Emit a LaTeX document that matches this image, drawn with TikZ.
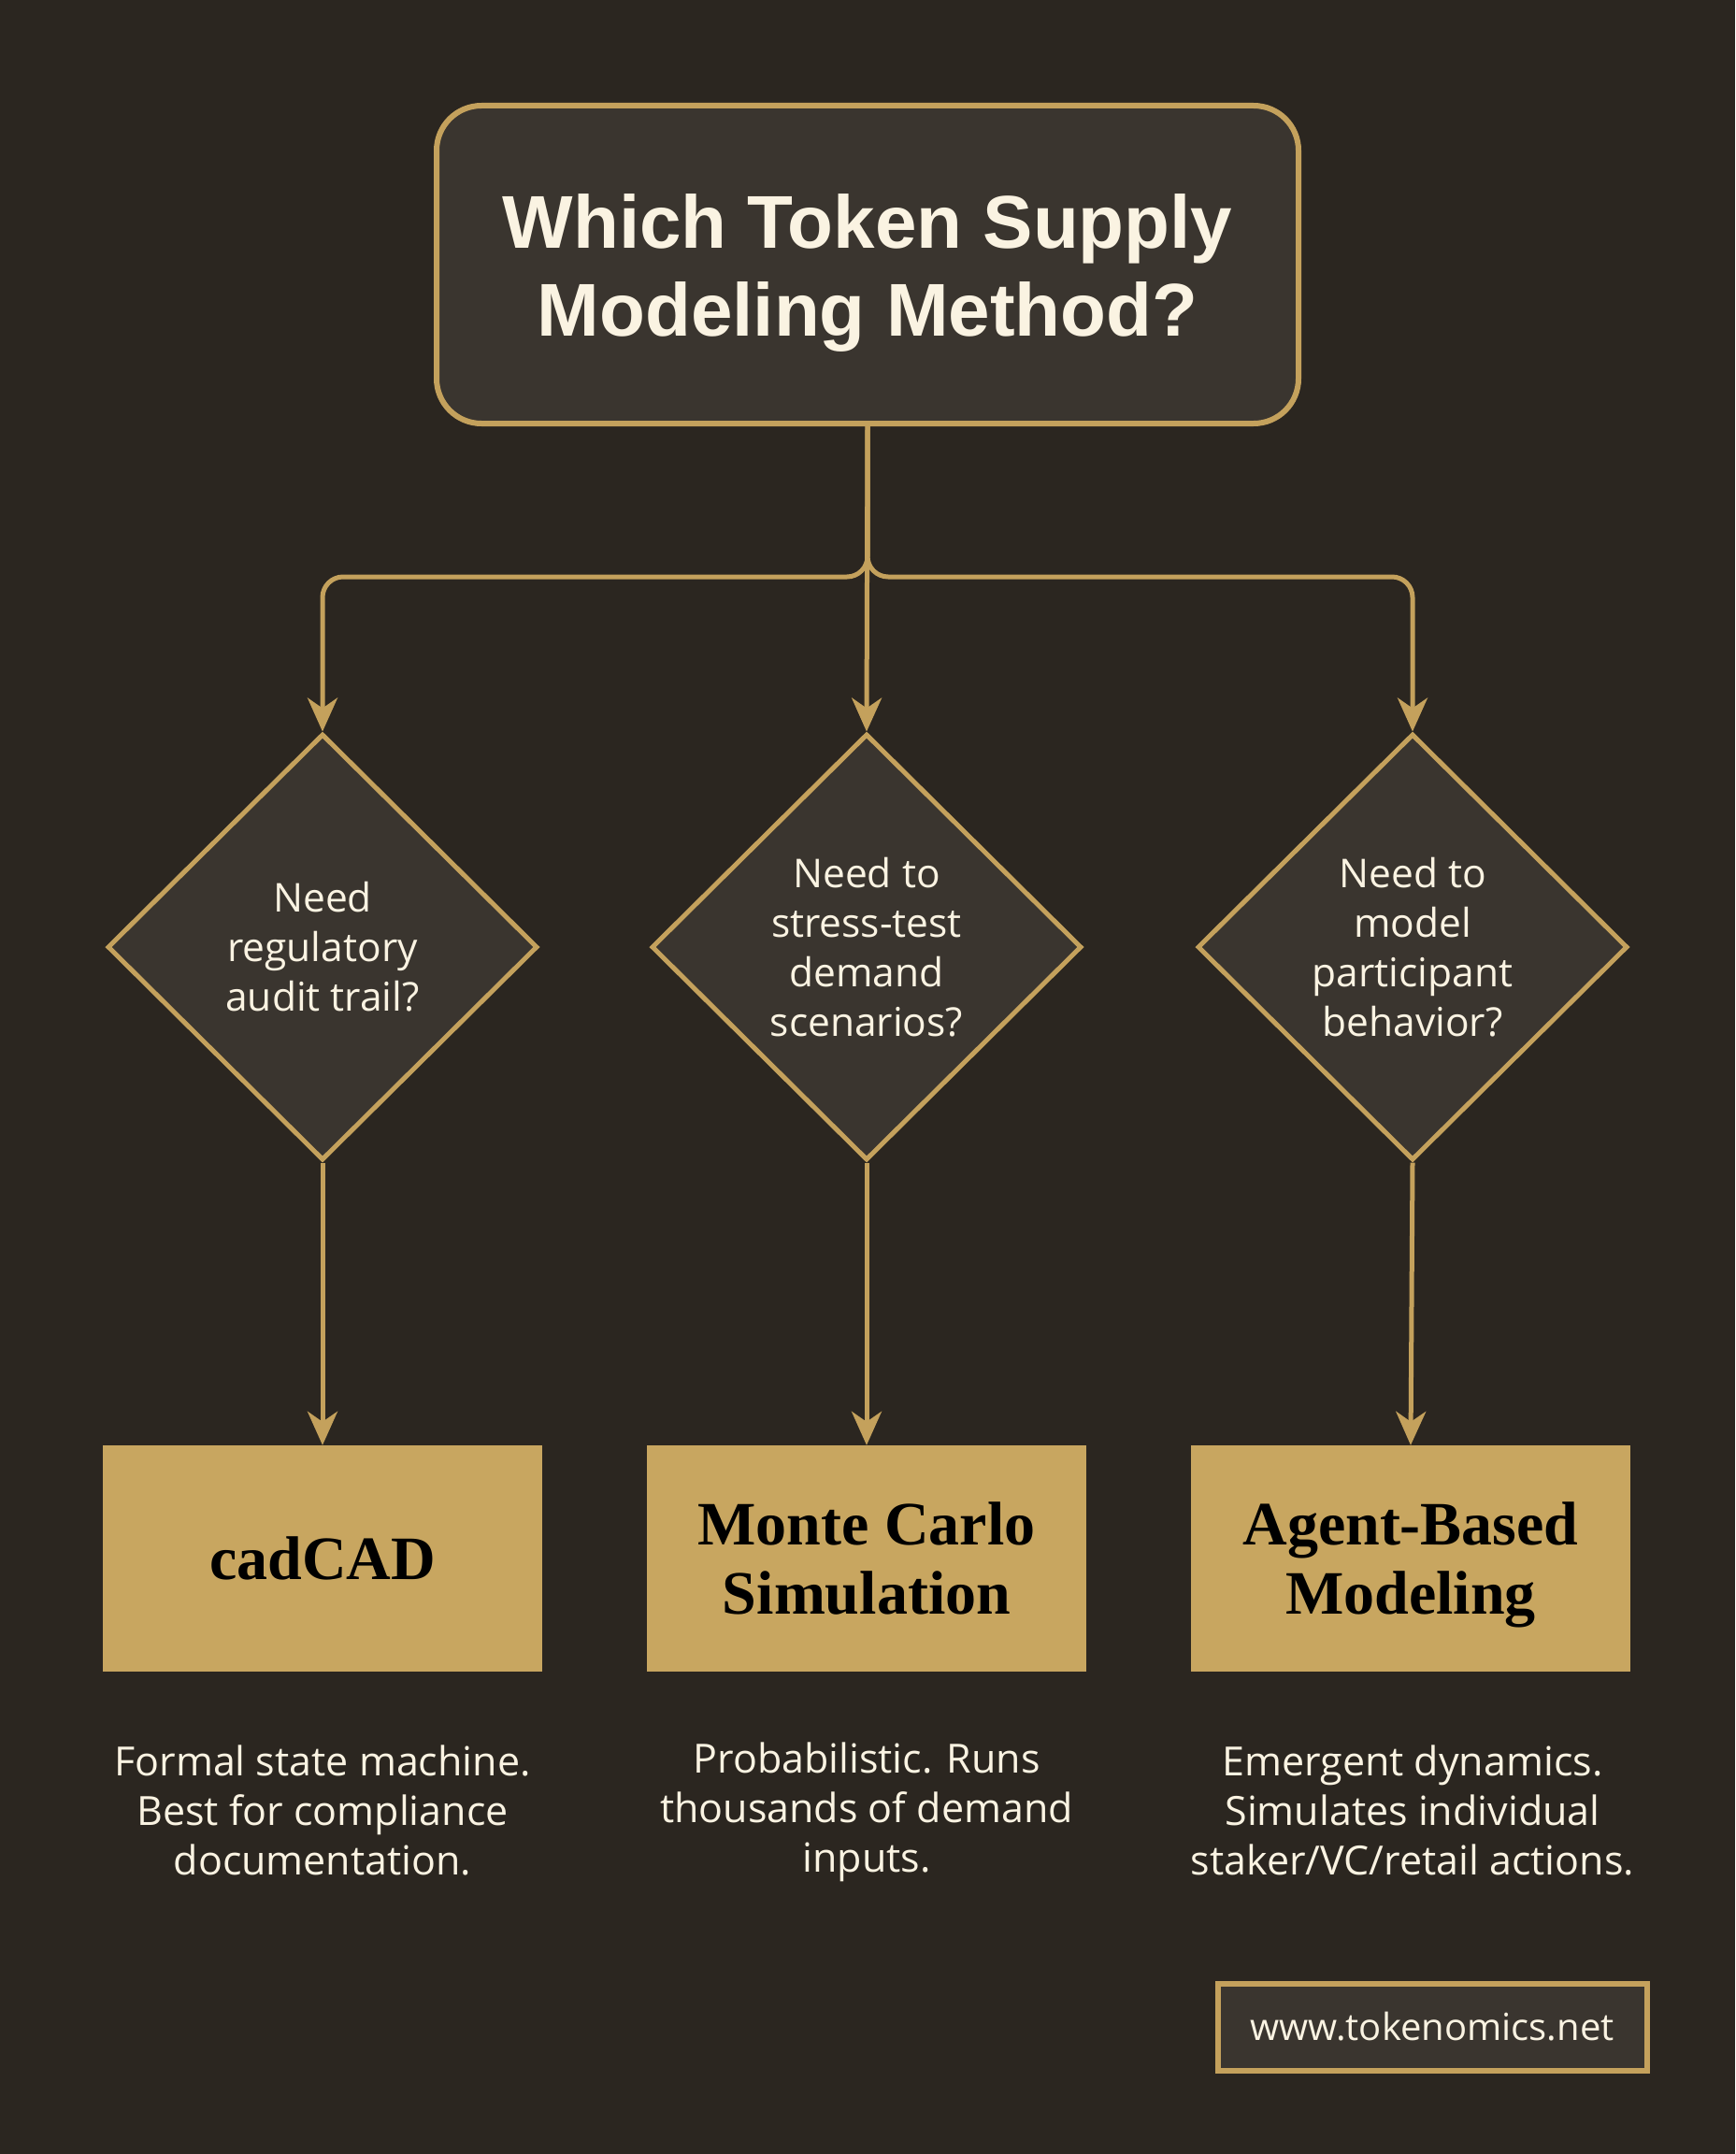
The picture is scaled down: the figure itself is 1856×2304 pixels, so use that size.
\documentclass[tikz,border=0pt]{standalone}
\usepackage{fontspec}
\usetikzlibrary{shapes.geometric,arrows.meta}
\newfontfamily\titlefont{Liberation Sans}
\newfontfamily\bodyfont{Open Sans}
\newfontfamily\boxfont{Liberation Serif}
\definecolor{bgc}{RGB}{43,38,32}
\definecolor{panel}{RGB}{58,53,47}
\definecolor{gold}{RGB}{196,161,92}
\definecolor{goldbox}{RGB}{200,166,96}
\definecolor{cream}{RGB}{250,243,226}
\tikzset{
  conn/.style={draw=gold, line width=5pt, -{Stealth[length=36pt,width=32pt,inset=11pt]}},
  titlebox/.style={rectangle, rounded corners=48pt, draw=gold, line width=6pt, fill=panel,
    minimum width=922pt, minimum height=340pt, align=center, text=cream,
    font={\titlefont\bfseries\fontsize{80}{94}\selectfont}},
  decision/.style={diamond, draw=gold, line width=5pt, fill=panel, inner sep=0pt,
    minimum width=460pt, minimum height=456pt, align=center, text=cream,
    font={\bodyfont\fontsize{42.5}{53}\selectfont}},
  method/.style={rectangle, fill=goldbox, minimum width=470pt, minimum height=242pt,
    align=center, text=black, font={\boxfont\bfseries\fontsize{66}{74}\selectfont}},
  desc/.style={align=center, text=cream, font={\bodyfont\fontsize{43}{53}\selectfont}},
  footer/.style={rectangle, draw=gold, line width=6pt, fill=panel, minimum width=459pt,
    minimum height=93pt, text=cream, font={\bodyfont\fontsize{40}{46}\selectfont}}
}
\begin{document}
\begin{tikzpicture}[x=1pt,y=-1pt]
\useasboundingbox (0,0) rectangle (1856,2304);
\fill[bgc] (0,0) rectangle (1856,2304);

\node[titlebox] (title) at (928,283) {\rule{0pt}{76pt}Which Token Supply\\Modeling Method?};

\node[decision] (d1) at (345,1013) {Need\\regulatory\\audit trail?};
\node[decision] (d2) at (927,1013) {Need to\\stress-test\\demand\\scenarios?};
\node[decision] (d3) at (1511,1013) {Need to\\model\\participant\\behavior?};

\node[method] (b1) at (345,1667) {cadCAD};
\node[method] (b2) at (927,1667) {Monte Carlo\\Simulation};
\node[method] (b3) at (1509,1667) {\rule{0pt}{60pt}Agent-Based\\Modeling};

\node[desc] (t1) at (345,1936) {Formal state machine.\\Best for compliance\\documentation.};
\node[desc] (t2) at (927,1938) {Probabilistic. Runs\\thousands of demand\\inputs.};
\node[desc] (t3) at (1511,1936) {Emergent dynamics.\\Simulates individual\\staker/VC/retail actions.};

\node[footer] (url) at (1532,2168) {www.tokenomics.net};

\coordinate (jl) at (345,617);
\coordinate (jr) at (1511,617);

\draw[conn] (title.south) -- (d2.north);
\draw[conn, rounded corners=22pt] (title.south) |- (jl) -- (d1.north);
\draw[conn, rounded corners=22pt] (title.south) |- (jr) -- (d3.north);

\draw[conn] (d1.south) -- (b1.north);
\draw[conn] (d2.south) -- (b2.north);
\draw[conn] (d3.south) -- (b3.north);
\end{tikzpicture}
\end{document}
